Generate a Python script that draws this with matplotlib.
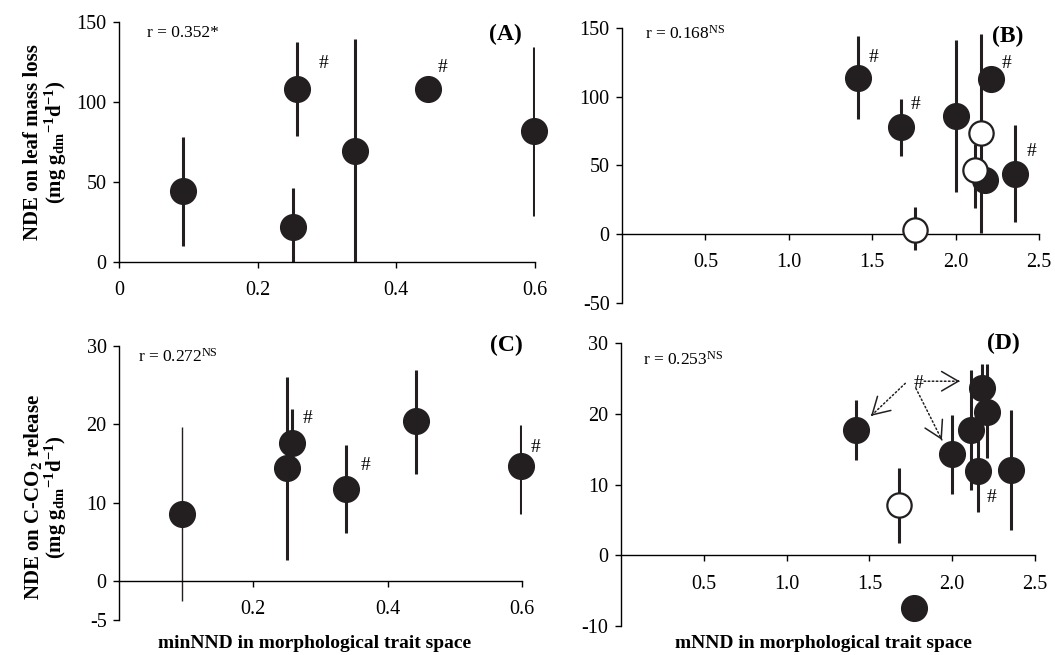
import numpy as np
import matplotlib
matplotlib.use('Agg')
from matplotlib import pyplot as plt

plt.rcParams['font.family'] = 'Liberation Serif'
plt.rcParams['mathtext.fontset'] = 'custom'
plt.rcParams['mathtext.rm'] = 'Liberation Serif'
plt.rcParams['mathtext.it'] = 'Liberation Serif:italic'
plt.rcParams['mathtext.bf'] = 'Liberation Serif:bold'
plt.rcParams['axes.unicode_minus'] = False

nan = np.nan

# panel A: minNND vs NDE on leaf mass loss
a_x = [0.093, 0.257, 0.251, 0.341, 0.445, 0.598]
a_y = [44.6, 107.9, 21.7, 69.4, 107.9, 81.9]
a_lo = [10.2, 78.8, -3.0, 0.0, nan, 28.8]
a_hi = [78.3, 137.7, 46.5, 139.2, nan, 134.6]
a_open = [False, False, False, False, False, False]
a_hash = [(0.295, 124.0), (0.467, 121.5)]

# panel B: mNND vs NDE on leaf mass loss
b_x = [1.415, 1.673, 2.003, 2.209, 2.175, 2.357, 1.755, 2.150, 2.114]
b_y = [113.5, 77.7, 86.2, 112.5, 39.3, 43.7, 2.9, 73.3, 46.6]
b_lo = [83.8, 57.0, 30.8, nan, 29.6, 8.5, -11.7, 1.0, 18.7]
b_hi = [144.4, 98.6, 141.3, nan, 50.0, 79.4, 19.9, 145.7, 65.5]
b_open = [False, False, False, False, False, False, True, True, True]
b_hash = [(1.507, 128.7), (1.76, 94.0), (2.305, 124.3), (2.456, 60.0)]

# panel C: minNND vs NDE on C-CO2 release
c_x = [0.094, 0.250, 0.258, 0.338, 0.442, 0.598]
c_y = [8.5, 14.4, 17.6, 11.7, 20.4, 14.7]
c_lo = [-2.6, 2.7, 14.0, 6.1, 13.6, 8.6]
c_hi = [19.6, 26.1, 22.0, 17.3, 27.0, 19.9]
c_open = [False, False, False, False, False, False]
c_hash = [(0.281, 20.8), (0.367, 14.8), (0.62, 17.1)]

# panel D: mNND vs NDE on C-CO2 release
d_x = [1.417, 1.998, 2.116, 2.183, 2.209, 2.157, 2.357, 1.767, 1.681]
d_y = [17.7, 14.3, 17.7, 23.7, 20.3, 11.9, 12.1, -7.4, 7.1]
d_lo = [13.4, 8.6, 9.2, 20.0, 13.7, 6.1, 3.5, nan, 1.7]
d_hi = [22.0, 19.8, 26.2, 27.0, 27.0, 17.0, 20.5, nan, 12.4]
d_open = [False, False, False, False, False, False, False, False, True]
d_hash = [(1.797, 24.3), (2.237, 8.2)]
# dotted arrows from the # label: (start, tip)
d_arrows = [((1.717, 24.3), (1.51, 19.7)),
            ((1.831, 24.6), (2.046, 24.6)),
            ((1.781, 23.6), (1.938, 16.3))]

r_text = ['r = 0.352*', r'r = 0.168$^{\mathrm{NS}}$',
          r'r = 0.272$^{\mathrm{NS}}$', r'r = 0.253$^{\mathrm{NS}}$']
panel_tag = ['(A)', '(B)', '(C)', '(D)']

ylab_mass = 'NDE on leaf mass loss\n' + r'(mg g$_{\mathbf{dm}}$$^{\mathbf{-1}}$d$^{\mathbf{-1}}$)'
ylab_co2 = r'NDE on C-CO$_{\mathbf{2}}$ release' + '\n' + r'(mg g$_{\mathbf{dm}}$$^{\mathbf{-1}}$d$^{\mathbf{-1}}$)'
xlab_min = 'minNND in morphological trait space'
xlab_m = 'mNND in morphological trait space'

a_xticks = [0, 0.2, 0.4, 0.6]
a_xlabels = ['0', '0.2', '0.4', '0.6']
c_xticks = [0.2, 0.4, 0.6]
c_xlabels = ['0.2', '0.4', '0.6']
bd_xticks = [0.5, 1.0, 1.5, 2.0, 2.5]
bd_xlabels = ['0.5', '1.0', '1.5', '2.0', '2.5']

FILL = '#231f20'

fig = plt.figure(figsize=(10.55, 6.55), dpi=100)
axA = fig.add_axes([0.1128, 0.6, 0.3943, 0.3664])
axB = fig.add_axes([0.5896, 0.5379, 0.3953, 0.4194])
axC = fig.add_axes([0.1128, 0.0534, 0.382, 0.4183])
axD = fig.add_axes([0.5886, 0.0443, 0.3924, 0.432])


def draw_panel(ax, x, y, lo, hi, is_open, thin=()):
  '''error lines first, then filled circles, then open circles'''
  for i in range(len(x)):
    if np.isnan(lo[i]):
      continue
    lw = 1.0 if i in thin else 2.2
    ax.plot([x[i], x[i]], [lo[i], hi[i]], color=FILL, lw=lw, solid_capstyle='butt', zorder=2)
  xf = [x[i] for i in range(len(x)) if not is_open[i]]
  yf = [y[i] for i in range(len(x)) if not is_open[i]]
  ax.plot(xf, yf, 'o', ms=18.5, mfc=FILL, mec=FILL, mew=1, zorder=3, clip_on=False)
  xo = [x[i] for i in range(len(x)) if is_open[i]]
  yo = [y[i] for i in range(len(x)) if is_open[i]]
  if xo:
    ax.plot(xo, yo, 'o', ms=17.5, mfc='white', mec=FILL, mew=1.6, zorder=4, clip_on=False)


def style_axes(ax, xlim, ylim, yticks, xticks, xlabels):
  ax.set_xlim(*xlim)
  ax.set_ylim(*ylim)
  ax.spines['top'].set_visible(False)
  ax.spines['right'].set_visible(False)
  ax.spines['bottom'].set_position(('data', 0))
  ax.spines['left'].set_linewidth(1.0)
  ax.spines['bottom'].set_linewidth(1.0)
  ax.set_yticks(yticks)
  ax.set_xticks(xticks)
  ax.set_xticklabels(xlabels)
  ax.tick_params(axis='y', direction='out', length=4, width=1, labelsize=14.5, pad=5)
  ax.tick_params(axis='x', direction='out', length=4, width=1, labelsize=14.5, pad=10)
  ax.patch.set_visible(False)


draw_panel(axA, a_x, a_y, a_lo, a_hi, a_open)
draw_panel(axB, b_x, b_y, b_lo, b_hi, b_open)
draw_panel(axC, c_x, c_y, c_lo, c_hi, c_open, thin=(0,))
draw_panel(axD, d_x, d_y, d_lo, d_hi, d_open)

style_axes(axA, (0, 0.6), (0, 150), [0, 50, 100, 150], a_xticks, a_xlabels)
style_axes(axB, (0, 2.5), (-50, 150), [-50, 0, 50, 100, 150], bd_xticks, bd_xlabels)
style_axes(axC, (0, 0.6), (-5, 30), [-5, 0, 10, 20, 30], c_xticks, c_xlabels)
style_axes(axD, (0, 2.5), (-10, 30), [-10, 0, 10, 20, 30], bd_xticks, bd_xlabels)

# hash marks
for ax, hs in [(axA, a_hash), (axB, b_hash), (axC, c_hash), (axD, d_hash)]:
  for hx, hy in hs:
    ax.text(hx, hy, '#', fontsize=14, ha='center', va='center', clip_on=False, zorder=5)

# dotted arrows in D (solid open head)
for (sx, sy), (tx, ty) in d_arrows:
  axD.annotate('', xy=(tx, ty), xytext=(sx, sy),
               arrowprops=dict(arrowstyle='-', linestyle=':', lw=1.1, color=FILL,
                               shrinkA=0, shrinkB=0))
  hx = tx + 0.04 * (sx - tx)
  hy = ty + 0.04 * (sy - ty)
  axD.annotate('', xy=(tx, ty), xytext=(hx, hy),
               arrowprops=dict(arrowstyle='->,head_length=0.6,head_width=0.35', lw=1.1,
                               color=FILL, shrinkA=0, shrinkB=0, mutation_scale=20))

# r values and panel tags
axA.text(0.04, 143, r_text[0], fontsize=12.5, ha='left', va='center')
axB.text(0.136, 145.6, r_text[1], fontsize=12.5, ha='left', va='center')
axC.text(0.028, 28.6, r_text[2], fontsize=12.5, ha='left', va='center')
axD.text(0.135, 27.7, r_text[3], fontsize=12.5, ha='left', va='center')

axA.text(0.557, 142, panel_tag[0], fontsize=17, fontweight='bold', ha='center', va='center')
axB.text(2.31, 144, panel_tag[1], fontsize=17, fontweight='bold', ha='center', va='center')
axC.text(0.577, 30.1, panel_tag[2], fontsize=17, fontweight='bold', ha='center', va='center')
axD.text(2.31, 30, panel_tag[3], fontsize=17, fontweight='bold', ha='center', va='center')

# axis titles
axA.set_ylabel(ylab_mass, fontsize=15, fontweight='bold', linespacing=0.95)
axA.yaxis.set_label_coords(-0.121, 0.5)
axC.set_ylabel(ylab_co2, fontsize=15, fontweight='bold', linespacing=0.95)
axC.yaxis.set_label_coords(-0.124, 0.45)

fig.text(315 / 1055, 1 - 643 / 655, xlab_min, fontsize=14, fontweight='bold', ha='center', va='center')
fig.text(823 / 1055, 1 - 643 / 655, xlab_m, fontsize=14, fontweight='bold', ha='center', va='center')

fig.savefig('out.png', dpi=100)
